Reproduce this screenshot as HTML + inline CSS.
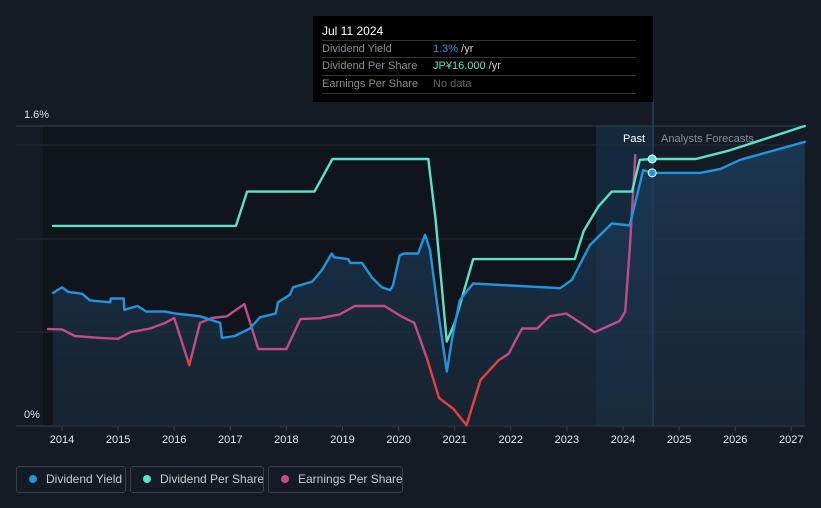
<!DOCTYPE html>
<html><head><meta charset="utf-8"><style>
body{margin:0;background:#151b24;font-family:"Liberation Sans",sans-serif;}
#wrap{position:relative;width:821px;height:508px;overflow:hidden;background:#151b24;}
svg{position:absolute;left:0;top:0;}
.tt{position:absolute;left:313px;top:16px;width:340px;height:86px;background:#000;color:#fff;font-size:11px;}
.tt .row{position:absolute;left:9px;width:314px;border-top:1px solid #333;height:17px;line-height:17px;color:#8a8f96;white-space:nowrap;}
.leg{position:absolute;top:466px;height:27px;border:1px solid #3a414b;border-radius:3px;color:#c9ccd0;font-size:12px;line-height:25px;box-sizing:border-box;white-space:nowrap;overflow:hidden;}
.leg i{display:inline-block;width:8px;height:8px;border-radius:50%;margin:0 9px 0 12px;vertical-align:0px;}
</style></head><body>
<div id="wrap">
<svg id="chart" width="821" height="508"></svg>
<div class="tt">
 <div style="position:absolute;left:9px;top:8px;font-size:12px">Jul 11 2024</div>
 <div class="row" style="top:24px">Dividend Yield<span style="position:absolute;left:111px;color:#2394df">1.3%<span style="color:#ccc"> /yr</span></span></div>
 <div class="row" style="top:41px">Dividend Per Share<span style="position:absolute;left:111px;color:#5fe0c8">JP¥16.000<span style="color:#ccc"> /yr</span></span></div>
 <div class="row" style="top:59px;border-bottom:1px solid #333">Earnings Per Share<span style="position:absolute;left:111px;color:#666">No data</span></div>
</div>
<div class="leg" style="left:16px;width:110px"><i style="background:#2394df"></i>Dividend Yield</div>
<div class="leg" style="left:130px;width:134px"><i style="background:#5fe0c8"></i>Dividend Per Share</div>
<div class="leg" style="left:268px;width:135px"><i style="background:#c34b8a"></i>Earnings Per Share</div>
</div>
<script>
const yieldYears=[2013.84,2014.0,2014.11,2014.36,2014.5,2014.86,2014.87,2015.1,2015.11,2015.35,2015.5,2015.84,2016.01,2016.46,2016.82,2016.85,2017.08,2017.35,2017.53,2017.81,2017.85,2018.06,2018.12,2018.46,2018.63,2018.81,2018.85,2019.1,2019.14,2019.35,2019.53,2019.7,2019.85,2019.9,2020.02,2020.1,2020.35,2020.47,2020.56,2020.7,2020.86,2020.95,2021.09,2021.33,2022.88,2023.09,2023.41,2023.8,2024.12,2024.36,2024.52,2025.37,2025.73,2026.09,2027.24];
const yieldVals=[0.71,0.74,0.715,0.705,0.67,0.66,0.68,0.68,0.62,0.64,0.61,0.61,0.60,0.585,0.55,0.47,0.48,0.52,0.58,0.60,0.66,0.70,0.74,0.77,0.83,0.92,0.90,0.89,0.87,0.87,0.79,0.74,0.725,0.75,0.91,0.92,0.92,1.02,0.94,0.62,0.29,0.46,0.67,0.76,0.735,0.78,0.965,1.08,1.07,1.365,1.35,1.35,1.37,1.42,1.515];
const dpsYears=[2013.84,2017.1,2017.3,2018.5,2018.82,2020.53,2020.66,2020.86,2021.0,2021.33,2023.14,2023.3,2023.56,2023.8,2024.16,2024.3,2024.52,2025.3,2025.9,2027.24];
const dpsVals=[1.067,1.067,1.25,1.25,1.424,1.424,1.1,0.45,0.55,0.89,0.89,1.04,1.17,1.25,1.25,1.42,1.424,1.424,1.47,1.6];
const epsYears=[2013.75,2014.0,2014.23,2014.68,2015.0,2015.21,2015.57,2015.84,2016.0,2016.27,2016.46,2016.67,2016.94,2017.25,2017.5,2018.0,2018.25,2018.6,2018.95,2019.22,2019.75,2020.02,2020.28,2020.51,2020.72,2020.98,2021.21,2021.46,2021.78,2021.96,2022.2,2022.47,2022.69,2022.99,2023.22,2023.49,2023.94,2024.04,2024.12,2024.22];
const epsVals=[0.517,0.515,0.48,0.47,0.465,0.50,0.52,0.55,0.576,0.325,0.55,0.576,0.585,0.65,0.41,0.41,0.57,0.575,0.595,0.64,0.64,0.59,0.55,0.357,0.15,0.09,0.005,0.245,0.35,0.385,0.52,0.52,0.585,0.60,0.555,0.50,0.56,0.61,0.94,1.445];
const yTickLabels=["0%","1.6%"];const yTickVals=[0,1.6];
const xTicks=[2014,2015,2016,2017,2018,2019,2020,2021,2022,2023,2024,2025,2026,2027];
const X=y=>62+(y-2014)*56.1, Y=v=>426-v*187.5;
const NS="http://www.w3.org/2000/svg", svg=document.getElementById('chart');
function mk(t,a,p){const e=document.createElementNS(NS,t);for(const k in a)e.setAttribute(k,a[k]);(p||svg).appendChild(e);return e;}
const defs=mk('defs',{});
defs.innerHTML='<linearGradient id="ag" x1="0" y1="0" x2="0" y2="1"><stop offset="0" stop-color="#1b3d5c" stop-opacity="0.8"/><stop offset="1" stop-color="#1b2c3e" stop-opacity="0.6"/></linearGradient><clipPath id="redc"><rect x="0" y="358" width="821" height="100"/></clipPath><clipPath id="pinkc"><rect x="0" y="0" width="821" height="358"/></clipPath>';
let r=mk('rect',{x:43,y:126,width:610,height:300,fill:'#10151c'});
r=mk('rect',{x:596,y:126,width:57,height:300,fill:'#173249',opacity:0.7});
[145,239,332].forEach(g=>{const l=mk('line',{x1:16,x2:805,y1:g,y2:g,stroke:'#262d37'});});
let l=mk('line',{x1:16,x2:805,y1:126,y2:126,stroke:'#3c434d'});
l=mk('line',{x1:16,x2:805,y1:426,y2:426,stroke:'#3c434d'});
yTickVals.forEach((v,i)=>{const t=mk('text',{x:24,y:Y(v)-8,fill:'#dfe2e6','font-size':11});t.textContent=yTickLabels[i];});
xTicks.forEach(yr=>{const tl=mk('line',{x1:X(yr),x2:X(yr),y1:426,y2:431,stroke:'#3c434d'});
 const t=mk('text',{x:X(yr),y:443,fill:'#e6e8eb','font-size':11,'text-anchor':'middle'});t.textContent=yr;});
const pts=(ys,vs)=>ys.map((y,i)=>X(y).toFixed(1)+','+Y(vs[i]).toFixed(1));
const yp=pts(yieldYears,yieldVals);
let a=mk('path',{d:'M'+X(yieldYears[0])+',426L'+yp.join('L')+'L'+X(yieldYears[yieldYears.length-1])+',426Z',fill:'url(#ag)'});
const lineAttr={fill:'none','stroke-width':2.4,'stroke-linejoin':'round','stroke-linecap':'round'};
const ep='M'+pts(epsYears,epsVals).join('L');
let p=mk('path',Object.assign({d:ep,stroke:'#c34b8a','clip-path':'url(#pinkc)'},lineAttr));
p=mk('path',Object.assign({d:ep,stroke:'#e8413a','clip-path':'url(#redc)'},lineAttr));
p=mk('path',Object.assign({d:'M'+pts(dpsYears,dpsVals).join('L'),stroke:'#5fe0c8'},lineAttr));
p=mk('path',Object.assign({d:'M'+yp.join('L'),stroke:'#2394df'},lineAttr));
l=mk('line',{x1:653,x2:653,y1:100,y2:426,stroke:'#1f3a55','stroke-width':2});
let c=mk('circle',{cx:X(2024.52),cy:Y(1.424),r:4,fill:'#5fe0c8',stroke:'#fff','stroke-width':1});
c=mk('circle',{cx:X(2024.52),cy:Y(1.35),r:4,fill:'#2394df',stroke:'#fff','stroke-width':1});
let t=mk('text',{x:645,y:142,fill:'#fff','font-size':11,'text-anchor':'end'});t.textContent='Past';
t=mk('text',{x:661,y:142,fill:'#8a9099','font-size':11});t.textContent='Analysts Forecasts';
</script>
</body></html>
